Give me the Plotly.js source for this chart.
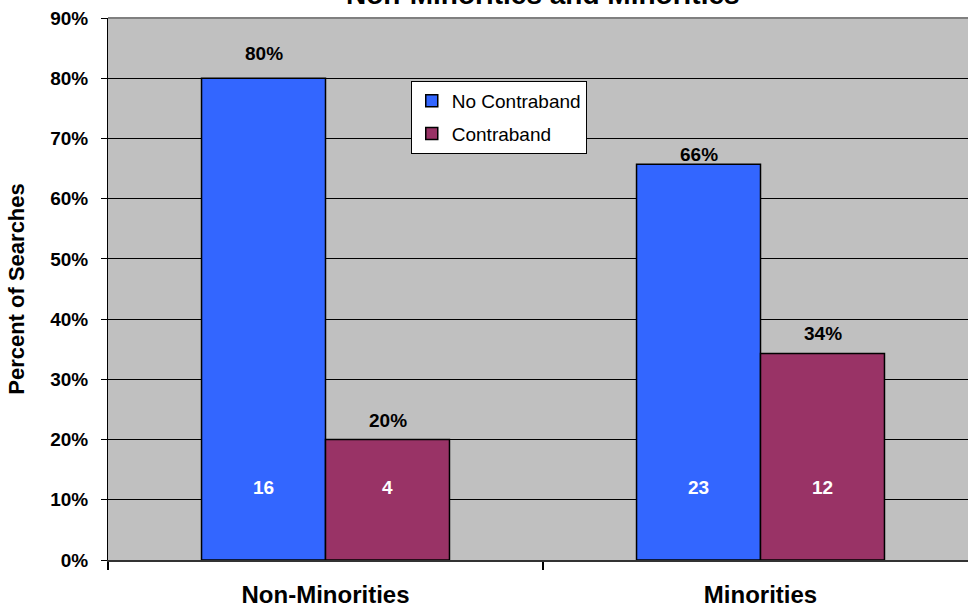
<!DOCTYPE html>
<html><head><meta charset="utf-8">
<script src="https://cdn.plot.ly/plotly-3.0.1.min.js"></script>
<style>html,body{margin:0;padding:0;overflow:hidden;background:#fff}#chart{width:980px;height:607px}</style>
</head><body><div id="chart"></div>
<script>
const categories = ['Non-Minorities', 'Minorities'];
const seriesNames = ['No Contraband', 'Contraband'];
const noContrabandPct = [0.80, 0.657];
const contrabandPct = [0.20, 0.343];
const noContrabandCount = [16, 23];
const contrabandCount = [4, 12];
const yTickVals = [0, 0.1, 0.2, 0.3, 0.4, 0.5, 0.6, 0.7, 0.8, 0.9];
const yTickLabels = ['0%', '10%', '20%', '30%', '40%', '50%', '60%', '70%', '80%', '90%'];
const chartTitle = 'Non-Minorities and Minorities';
const yAxisTitle = 'Percent of Searches';

const colors = ['#3366FF', '#993366'];
const FONT = 'Arial, "Liberation Sans", sans-serif';
const pctSeries = [noContrabandPct, contrabandPct];
const countSeries = [noContrabandCount, contrabandCount];
const barHalf = 62;
const pctLift = [[25, 10], [19, 20]];
const countLevel = 0.12;

const traces = pctSeries.map((vals, s) => ({
  type: 'bar', name: seriesNames[s], x: categories, y: vals,
  legendgroup: 'g' + s,
  marker: {color: colors[s], line: {color: '#000', width: 1.5}},
  hoverinfo: 'skip'
}));

const annotations = [];
pctSeries.forEach((vals, s) => {
  vals.forEach((v, i) => {
    annotations.push({
      xref: 'x', yref: 'y', x: categories[i], y: v,
      xshift: s === 0 ? -barHalf : barHalf, yshift: pctLift[s][i],
      text: Math.round(v * 100) + '%', showarrow: false,
      yanchor: 'middle', xanchor: 'center',
      font: {family: FONT, size: 19, color: '#000', weight: 'bold'}
    });
    annotations.push({
      xref: 'x', yref: 'y', x: categories[i], y: countLevel,
      xshift: s === 0 ? -barHalf : barHalf,
      text: String(countSeries[s][i]), showarrow: false,
      yanchor: 'middle', xanchor: 'center',
      font: {family: FONT, size: 19, color: '#fff', weight: 'bold'}
    });
  });
});
annotations.push({
  xref: 'paper', yref: 'paper', x: 0.5, y: 1.043, yanchor: 'middle', xanchor: 'center',
  text: chartTitle, showarrow: false,
  font: {family: FONT, size: 28, color: '#000', weight: 'bold'}
});

const layout = {
  width: 980, height: 607,
  margin: {l: 108, r: 2, t: 18, b: 47},
  paper_bgcolor: '#fff', plot_bgcolor: '#C0C0C0',
  barmode: 'group', bargap: 0.43, bargroupgap: 0,
  showlegend: true,
  legend: {
    x: 0.348, y: 0.884, xanchor: 'left', yanchor: 'top',
    bgcolor: '#fff', bordercolor: '#000', borderwidth: 1,
    font: {family: FONT, size: 19, color: '#000'},
    traceorder: 'grouped', tracegroupgap: 5
  },
  xaxis: {
    type: 'category', tickson: 'boundaries', ticks: 'outside', ticklen: 8, tickwidth: 1.5, tickcolor: '#000',
    showline: true, linecolor: '#333', linewidth: 2, showgrid: false,
    ticklabelstandoff: 12,
    tickfont: {family: FONT, size: 24, color: '#000', weight: 'bold'},
    fixedrange: true
  },
  yaxis: {
    range: [0, 0.9], tickvals: yTickVals, ticktext: yTickLabels,
    ticks: 'outside', ticklen: 6, tickcolor: '#000', tickwidth: 1,
    showline: true, linecolor: '#000', linewidth: 1,
    showgrid: true, gridcolor: '#000', gridwidth: 1, zeroline: false,
    ticklabelstandoff: 9,
    tickfont: {family: FONT, size: 19, color: '#000', weight: 'bold'},
    title: {text: yAxisTitle, standoff: 19, font: {family: FONT, size: 22, color: '#000', weight: 'bold'}},
    fixedrange: true
  },
  shapes: [{
    type: 'line', xref: 'paper', yref: 'paper', x0: 0, x1: 1, y0: 1, y1: 1,
    line: {color: '#808080', width: 2}
  }],
  annotations: annotations
};

Plotly.newPlot('chart', traces, layout, {displayModeBar: false, staticPlot: true});
</script></body></html>
